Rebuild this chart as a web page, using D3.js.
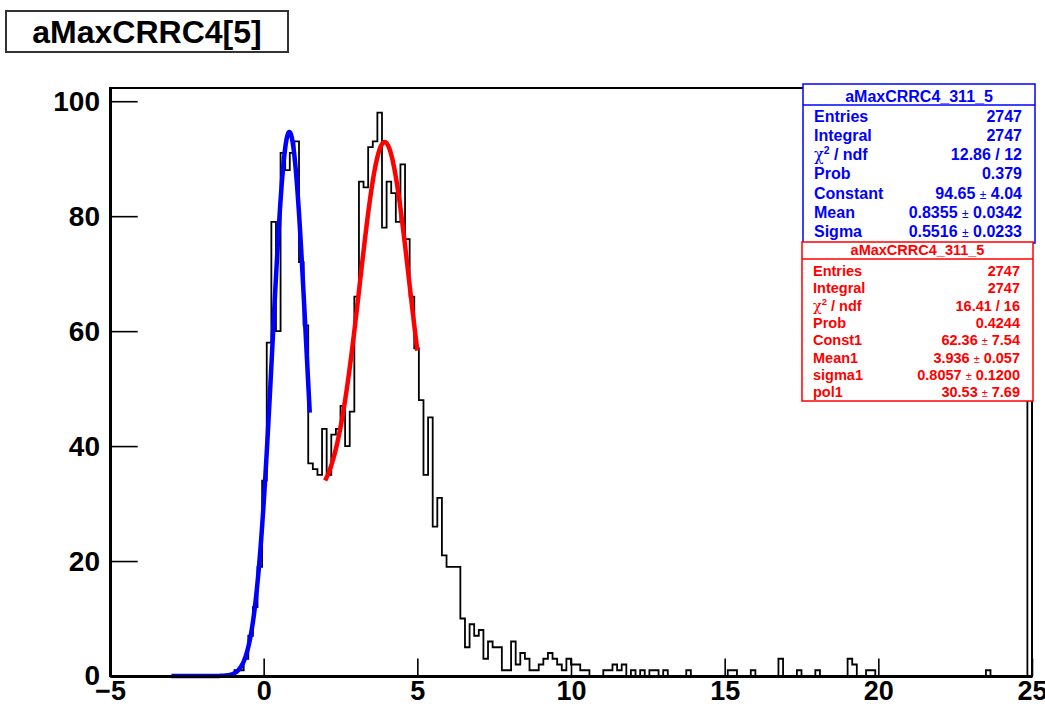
<!DOCTYPE html>
<html>
<head>
<meta charset="utf-8">
<script src="https://cdn.jsdelivr.net/npm/d3@7"></script>
<style>
  body { margin: 0; background: #fff; }
  text { font-family: "Liberation Sans", Arial, Helvetica, sans-serif; font-weight: bold; }
</style>
</head>
<body>
<svg id="chart" width="1045" height="706"></svg>
<script>
// histogram binning
const xMin = -5, xMax = 25, nBins = 200;
const yMax = 102.3;

// bin contents, 10 bins per row (row start value in comment)
const counts = [
  0, 0, 0, 0, 0, 0, 0, 0, 0, 0,          // -5.0
  0, 0, 0, 0, 0, 0, 0, 0, 0, 0,          // -3.5
  0, 0, 0, 0, 0, 0, 0, 1, 1, 3,          // -2.0
  7, 12, 19, 34, 58, 79, 60, 91, 88, 91, // -0.5
  93, 72, 61, 37, 36, 35, 43, 35, 42, 43, // 1.0
  47, 40, 46, 66, 86, 85, 92, 93, 98, 78, // 2.5
  86, 84, 79, 89, 76, 66, 57, 48, 35, 45, // 4.0
  26, 31, 21, 19, 19, 19, 10, 5, 9, 7,   // 5.5
  8, 3, 6, 5, 5, 1, 1, 6, 2, 4,          // 7.0
  3, 1, 1, 2, 3, 4, 3, 2, 1, 3,          // 8.5
  2, 2, 1, 1, 0, 0, 0, 1, 1, 2,          // 10.0
  1, 2, 0, 1, 0, 1, 0, 1, 1, 0,          // 11.5
  1, 0, 0, 0, 0, 1, 0, 0, 0, 0,          // 13.0
  0, 0, 0, 0, 1, 1, 0, 0, 0, 1,          // 14.5
  0, 0, 0, 0, 0, 3, 0, 0, 0, 1,          // 16.0
  0, 0, 0, 1, 0, 0, 0, 0, 0, 0,          // 17.5
  3, 2, 0, 0, 1, 1, 0, 0, 0, 0,          // 19.0
  0, 0, 0, 0, 0, 0, 0, 0, 0, 0,          // 20.5
  0, 0, 0, 0, 0, 0, 0, 0, 0, 0,          // 22.0
  1, 0, 0, 0, 0, 0, 0, 0, 0, 130         // 23.5
];

const xMajorTicks = [-5, 0, 5, 10, 15, 20, 25];
const yMajorTicks = [0, 20, 40, 60, 80, 100];

// fit results (gaus and gaus + const)
const gausFit = { constant: 94.65, mean: 0.8355, sigma: 0.5516, from: -3, to: 1.5 };
const gausPolFit = { const1: 62.36, mean1: 3.936, sigma1: 0.8057, pol1: 30.53, from: 2, to: 5 };

const histTitle = "aMaxCRRC4[5]";
const statsName = "aMaxCRRC4_311_5";
const blueLabels = ["Entries", "Integral", "chi2", "Prob", "Constant", "Mean", "Sigma"];
const blueValues = ["2747", "2747", "12.86 / 12", "0.379", "94.65 ± 4.04", "0.8355 ± 0.0342", "0.5516 ± 0.0233"];
const redLabels = ["Entries", "Integral", "chi2", "Prob", "Const1", "Mean1", "sigma1", "pol1"];
const redValues = ["2747", "2747", "16.41 / 16", "0.4244", "62.36 ± 7.54", "3.936 ± 0.057", "0.8057 ± 0.1200", "30.53 ± 7.69"];

const svg = d3.select('#chart');
const frame = { left: 110, right: 1032, top: 88, bottom: 676 };

const x = d3.scaleLinear().domain([xMin, xMax]).range([frame.left, frame.right]);
const y = d3.scaleLinear().domain([0, yMax]).range([frame.bottom, frame.top]);

svg.append('clipPath').attr('id', 'frameClip')
  .append('rect')
  .attr('x', frame.left).attr('y', frame.top)
  .attr('width', frame.right - frame.left).attr('height', frame.bottom - frame.top);

// histogram outline
const binW = (xMax - xMin) / nBins;
const steps = [[xMin, 0]];
counts.forEach((c, i) => {
  const lo = xMin + i * binW;
  steps.push([lo, c], [lo + binW, c]);
});
steps.push([xMax, 0]);

const line = d3.line().x(d => x(d[0])).y(d => y(d[1]));

svg.append('path')
  .datum(steps)
  .attr('clip-path', 'url(#frameClip)')
  .attr('d', line)
  .attr('fill', 'none')
  .attr('stroke', '#000')
  .attr('stroke-width', 1.8);

// fit curves
function gaus(v, c, m, s) { return c * Math.exp(-0.5 * ((v - m) / s) ** 2); }

const blueCurve = d3.range(gausFit.from, gausFit.to + 1e-9, 0.02)
  .map(v => [v, gaus(v, gausFit.constant, gausFit.mean, gausFit.sigma)]);
const redCurve = d3.range(gausPolFit.from, gausPolFit.to + 1e-9, 0.02)
  .map(v => [v, gaus(v, gausPolFit.const1, gausPolFit.mean1, gausPolFit.sigma1) + gausPolFit.pol1]);

svg.append('path').datum(blueCurve).attr('d', line)
  .attr('fill', 'none').attr('stroke', '#0000ff').attr('stroke-width', 4.5)
  .attr('stroke-linejoin', 'round');
svg.append('path').datum(redCurve).attr('d', line)
  .attr('fill', 'none').attr('stroke', '#ff0000').attr('stroke-width', 4.5)
  .attr('stroke-linejoin', 'round');

// frame
svg.append('rect')
  .attr('x', frame.left).attr('y', frame.top)
  .attr('width', frame.right - frame.left).attr('height', frame.bottom - frame.top)
  .attr('fill', 'none').attr('stroke', '#000').attr('stroke-width', 2);

// axes, ticks pointing inside like ROOT
const fmt = d3.format('d');
const gx = svg.append('g').attr('transform', `translate(0,${frame.bottom})`);
gx.call(d3.axisBottom(x).tickValues(d3.range(xMin, xMax + 1, 1)).tickSize(-8.8).tickSizeOuter(0).tickFormat(''));
gx.call(d3.axisBottom(x).tickValues(xMajorTicks).tickSize(-17.6).tickSizeOuter(0).tickPadding(5).tickFormat(fmt));

const gy = svg.append('g').attr('transform', `translate(${frame.left},0)`);
gy.call(d3.axisLeft(y).tickValues(d3.range(0, 101, 5)).tickSize(-13.8).tickSizeOuter(0).tickFormat(''));
gy.call(d3.axisLeft(y).tickValues(yMajorTicks).tickSize(-27.7).tickSizeOuter(0).tickPadding(10).tickFormat(fmt));

svg.selectAll('.domain').attr('stroke', '#000').attr('stroke-width', 3);
svg.selectAll('.tick line').attr('stroke', '#000').attr('stroke-width', 1.6);
gy.selectAll('.tick text').attr('fill', '#000').style('font-size', '28px');
gx.selectAll('.tick text').attr('fill', '#000').style('font-size', '27px');

// title box
svg.append('rect').attr('x', 6).attr('y', 11).attr('width', 282).attr('height', 41)
  .attr('fill', '#fff').attr('stroke', '#333').attr('stroke-width', 2);
svg.append('text').attr('x', 147).attr('y', 43).attr('text-anchor', 'middle')
  .style('font-size', '32px').attr('fill', '#000').text(histTitle);

// stats boxes
function statsBox(opt) {
  const g = svg.append('g');
  g.append('rect').attr('x', opt.x).attr('y', opt.y).attr('width', opt.w).attr('height', opt.h)
    .attr('fill', '#fff').attr('stroke', opt.color).attr('stroke-width', 1.5);
  g.append('line').attr('x1', opt.x).attr('x2', opt.x + opt.w)
    .attr('y1', opt.lineY).attr('y2', opt.lineY)
    .attr('stroke', opt.color).attr('stroke-width', 1.5);
  g.append('text').attr('x', opt.x + opt.w / 2).attr('y', opt.titleY)
    .attr('text-anchor', 'middle').attr('fill', opt.color)
    .style('font-size', opt.size + 'px').text(statsName);

  opt.labels.forEach((lab, i) => {
    const yy = opt.rowY + i * opt.step;
    const t = g.append('text').attr('x', opt.x + 11).attr('y', yy)
      .attr('fill', opt.color).style('font-size', opt.size + 'px');
    if (lab === 'chi2') {
      t.append('tspan').style('font-weight', 'normal').style('font-family', '"DejaVu Serif", serif').text('χ');
      t.append('tspan').attr('dy', -opt.size * 0.4).style('font-size', (opt.size * 0.65) + 'px').text('2');
      t.append('tspan').attr('dy', opt.size * 0.4).text(' / ndf');
    } else {
      t.text(lab);
    }
    const v = g.append('text').attr('x', opt.x + opt.w - 13).attr('y', yy)
      .attr('text-anchor', 'end').attr('fill', opt.color).style('font-size', opt.size + 'px');
    const parts = opt.values[i].split(' ± ');
    if (parts.length === 2) {
      v.append('tspan').text(parts[0] + ' ');
      v.append('tspan').style('font-size', (opt.size * 0.75) + 'px').style('font-weight', 'normal').text('±');
      v.append('tspan').text(' ' + parts[1]);
    } else {
      v.text(opt.values[i]);
    }
  });
}

statsBox({ x: 803, y: 84, w: 232, h: 159, lineY: 105, titleY: 101.5, rowY: 121.5, step: 19.25,
  size: 16, color: '#0000ff', labels: blueLabels, values: blueValues });
statsBox({ x: 802, y: 242, w: 231, h: 159, lineY: 259, titleY: 255, rowY: 276, step: 17.3,
  size: 14.5, color: '#ff0000', labels: redLabels, values: redValues });
</script>
</body>
</html>
